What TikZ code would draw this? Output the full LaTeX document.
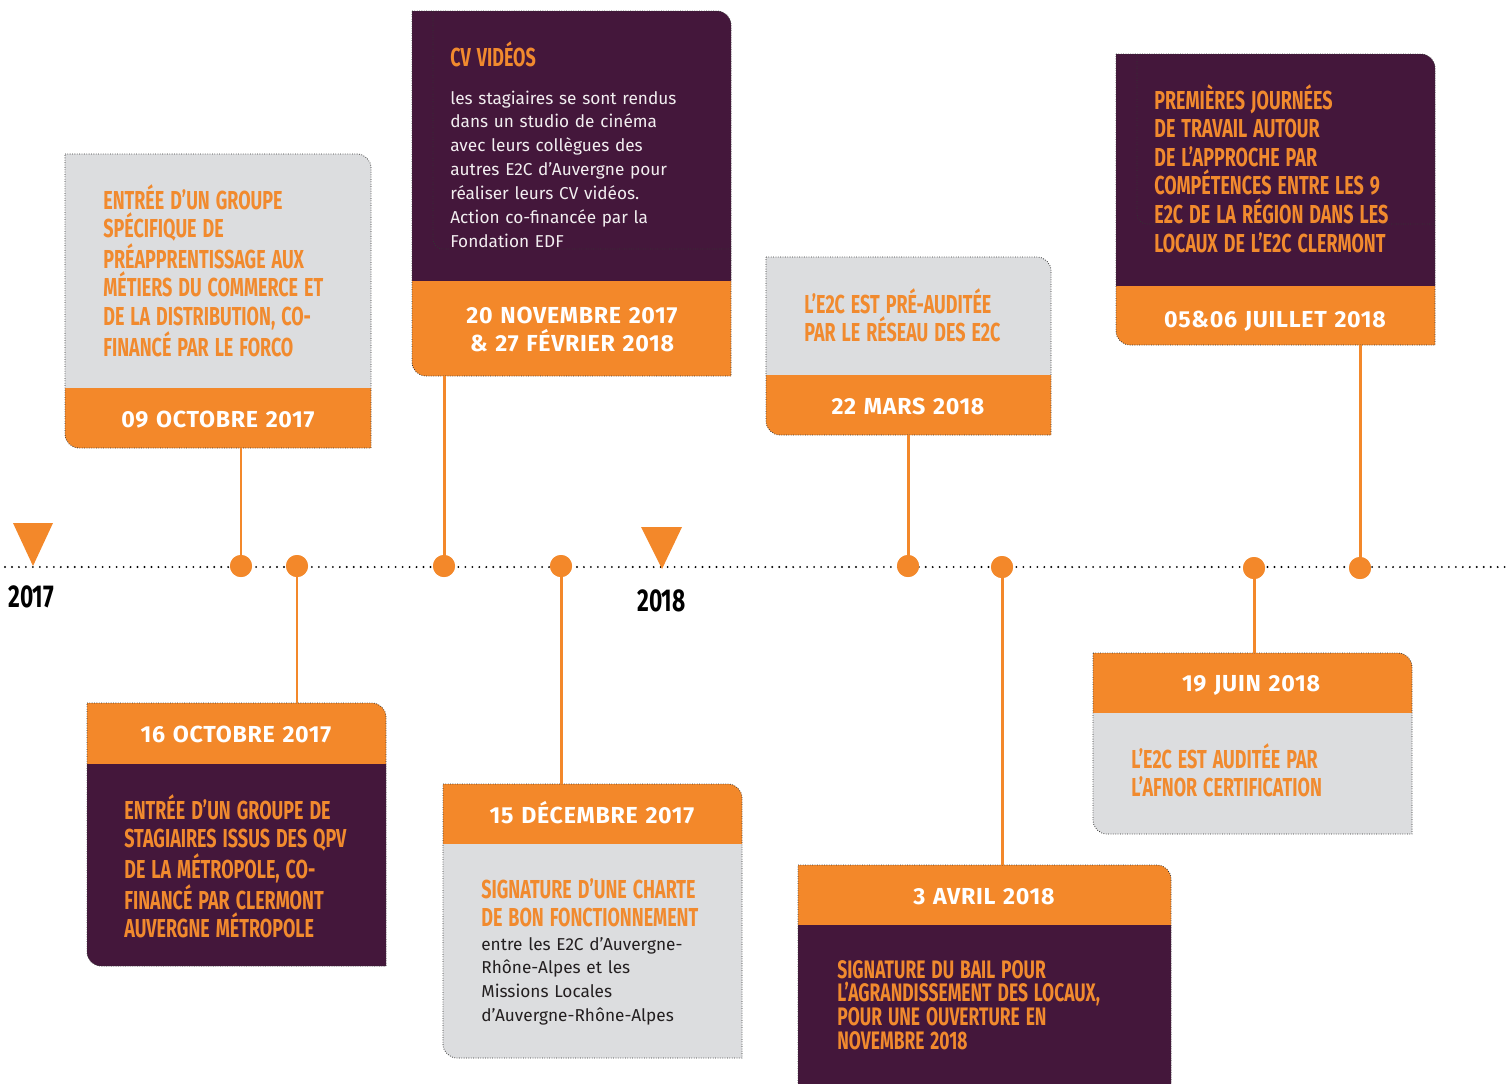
\documentclass[tikz,border=0pt]{standalone}
\usepackage{fontspec}
\setmainfont{Fira Sans}
\newfontfamily\headf{Fira Sans}[FakeStretch=0.69]
\newfontfamily\yearf{Fira Sans}[FakeStretch=0.72]
\newfontfamily\datef{Fira Sans}[LetterSpace=3]
\definecolor{tlorange}{HTML}{F3882A}
\definecolor{tlpurple}{HTML}{44173B}
\definecolor{tlgrey}{HTML}{DCDDDF}
\definecolor{tlhead}{HTML}{F18A2E}
\definecolor{tlbody}{HTML}{231F20}
\definecolor{tllight}{HTML}{F2EEF0}
\newcommand\tlbox[7]{%
  \fill[#1] (#3,-#4) -- ({#5-14},-#4) arc[start angle=90,end angle=0,radius=0.28cm] -- (#5,-#6) -- (#3,-#6) -- cycle;
  \fill[#2] (#3,-#6) -- (#5,-#6) -- (#5,-#7) -- ({#3+14},-#7) arc[start angle=270,end angle=180,radius=0.28cm] -- cycle;
  \draw[outl] (#3,-#4) -- ({#5-14},-#4) arc[start angle=90,end angle=0,radius=0.28cm] -- (#5,-#7) -- ({#3+14},-#7) arc[start angle=270,end angle=180,radius=0.28cm] -- cycle;}
\begin{document}
\begin{tikzpicture}[x=0.02cm,y=0.02cm,
  outl/.style={draw=black!80, line width=0.45pt, dash pattern=on 0.45pt off 0.9pt},
  head/.style={anchor=base west, inner sep=0, text width=9cm, align=left, text=tlhead,
    font=\headf\bfseries\fontsize{14.8}{16.3}\selectfont,
    execute at begin node={\spaceskip=3.4pt\relax}},
  headsm/.style={head, font=\headf\bfseries\fontsize{14.4}{13.6}\selectfont},
  body/.style={anchor=base west, inner sep=0, text width=8cm, align=left,
    font=\fontsize{9.8}{13.6}\selectfont},
  datelbl/.style={anchor=base, inner sep=0, text width=8cm, align=center, text=white,
    font=\datef\bfseries\fontsize{13.2}{16.3}\selectfont},
  year/.style={anchor=base west, inner sep=0, font=\yearf\bfseries\fontsize{18}{20}\selectfont},
  stem/.style={draw=tlorange, line width=1.7pt},
  dot/.style={circle, fill=tlorange, minimum size=0.44cm, inner sep=0},
  tri/.style={fill=tlorange}]
\clip (0,0) rectangle (1506,-1083);
\fill[white] (0,0) rectangle (1506,-1083);

% timeline
\coordinate (tl0) at (5,-567);
\coordinate (tl1) at (1506,-567);
\draw[line width=1.2pt, line cap=round, dash pattern=on 0pt off 3.97pt] (tl0) -- (tl1);
\fill[tri] (13,-523) -- (53,-523) -- (33,-566) -- cycle;
\fill[tri] (641,-527) -- (682,-527) -- (662,-569) -- cycle;
\node[year] (y17) at (8,-607) {2017};
\node[year] (y18) at (637,-611) {2018};

% boxes
\tlbox{tlgrey}{tlorange}{65}{154}{371}{388}{448}
\tlbox{tlpurple}{tlorange}{412}{11}{731}{281}{376}
\tlbox{tlgrey}{tlorange}{766}{257}{1051}{375}{435}
\tlbox{tlpurple}{tlorange}{1116}{54}{1435}{286}{345}
\tlbox{tlorange}{tlpurple}{87}{703}{386}{764}{966}
\tlbox{tlorange}{tlgrey}{443}{784}{742}{844}{1058}
\tlbox{tlorange}{tlpurple}{798}{865}{1171}{925}{1110}
\tlbox{tlorange}{tlgrey}{1093}{653}{1412}{713}{834}

% inner dotted traces
\draw[outl] (433,-11) -- (433,-239) arc[start angle=180,end angle=270,radius=0.2cm] -- (731,-249);
\draw[outl] (1137,-54) -- (1137,-214) arc[start angle=180,end angle=270,radius=0.2cm] -- (1435,-224);

% anchors on boxes
\coordinate (bA) at (241,-448);
\coordinate (bB) at (444,-376);
\coordinate (bC) at (908,-435);
\coordinate (bD) at (1360,-345);
\coordinate (bE) at (297,-703);
\coordinate (bF) at (561,-784);
\coordinate (bG) at (1002,-865);
\coordinate (bH) at (1254,-653);

% dots
\node[dot] (dA) at (241,-566) {};
\node[dot] (dE) at (297,-566) {};
\node[dot] (dB) at (444,-566) {};
\node[dot] (dF) at (561,-566) {};
\node[dot] (dC) at (908,-566) {};
\node[dot] (dG) at (1002,-567) {};
\node[dot] (dH) at (1254,-568) {};
\node[dot] (dD) at (1360,-568) {};

\foreach \b/\d in {bA/dA,bB/dB,bC/dC,bD/dD,bE/dE,bF/dF,bG/dG,bH/dH}
  \draw[stem] (\b) -- (\d.center);
\foreach \d in {dA,dB,dC,dD,dE,dF,dG,dH}
  \fill[tlorange] (\d.center) circle[radius=0.22cm];

% texts
\node[head] (tA) at (103,-209) {ENTRÉE D’UN GROUPE\\SPÉCIFIQUE DE\\PRÉAPPRENTISSAGE AUX\\MÉTIERS DU COMMERCE ET\\DE LA DISTRIBUTION, CO-\\FINANCÉ PAR LE FORCO};
\node[datelbl] (dtA) at (218,-427) {09 OCTOBRE 2017};

\node[head] (hB) at (450,-66) {CV VIDÉOS};
\node[body, text=tllight] (tB) at (450,-104) {les stagiaires se sont rendus\\dans un studio de cinéma\\avec leurs collègues des\\autres E2C d’Auvergne pour\\réaliser leurs CV vidéos.\\Action co-financée par la\\Fondation EDF};
\node[datelbl] (dtB) at (572,-323) {20 NOVEMBRE 2017\\\& 27 FÉVRIER 2018};

\node[head] (tC) at (804,-313) {L’E2C EST PRÉ-AUDITÉE\\PAR LE RÉSEAU DES E2C};
\node[datelbl] (dtC) at (908,-414) {22 MARS 2018};

\node[head] (tD) at (1154,-109) {PREMIÈRES JOURNÉES\\DE TRAVAIL AUTOUR\\DE L’APPROCHE PAR\\COMPÉTENCES ENTRE LES 9\\E2C DE LA RÉGION DANS LES\\LOCAUX DE L’E2C CLERMONT};
\node[datelbl] (dtD) at (1275,-327) {05\&06 JUILLET 2018};

\node[datelbl] (dtE) at (236,-742) {16 OCTOBRE 2017};
\node[head] (tE) at (124,-819) {ENTRÉE D’UN GROUPE DE\\STAGIAIRES ISSUS DES QPV\\DE LA MÉTROPOLE, CO-\\FINANCÉ PAR CLERMONT\\AUVERGNE MÉTROPOLE};

\node[datelbl] (dtF) at (592,-823) {15 DÉCEMBRE 2017};
\node[head] (hF) at (481,-898) {SIGNATURE D’UNE CHARTE\\DE BON FONCTIONNEMENT};
\node[body, text=tlbody] (tF) at (481,-950) {entre les E2C d’Auvergne-\\Rhône-Alpes et les\\Missions Locales\\d’Auvergne-Rhône-Alpes};

\node[datelbl] (dtG) at (984,-904) {3 AVRIL 2018};
\node[headsm] (tG) at (837,-978) {SIGNATURE DU BAIL POUR\\L’AGRANDISSEMENT DES LOCAUX,\\POUR UNE OUVERTURE EN\\NOVEMBRE 2018};

\node[datelbl] (dtH) at (1251,-691) {19 JUIN 2018};
\node[head] (tH) at (1131,-768) {L’E2C EST AUDITÉE PAR\\L’AFNOR CERTIFICATION};
\end{tikzpicture}
\end{document}
